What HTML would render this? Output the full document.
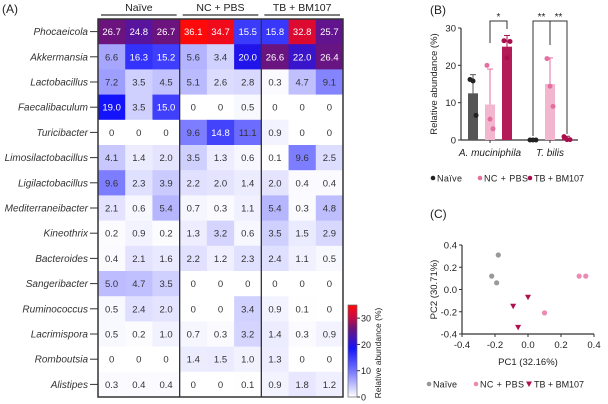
<!DOCTYPE html>
<html><head><meta charset="utf-8"><style>
body{margin:0;background:#fff;width:608px;height:404px;overflow:hidden;font-family:"Liberation Sans",sans-serif}
svg{display:block}
text{font-family:"Liberation Sans",sans-serif}
</style></head><body>
<svg id="s" width="608" height="404" xmlns="http://www.w3.org/2000/svg"></svg>
<script>
const genera=["Phocaeicola","Akkermansia","Lactobacillus","Faecalibaculum","Turicibacter","Limosilactobacillus","Ligilactobacillus","Mediterraneibacter","Kineothrix","Bacteroides","Sangeribacter","Ruminococcus","Lacrimispora","Romboutsia","Alistipes"];
const groups=["Naïve","NC + PBS","TB + BM107"];
const heat=[
[26.7,24.8,26.7,36.1,34.7,15.5,15.8,32.8,25.7],
[6.6,16.3,15.2,5.6,3.4,20.0,26.6,22.0,26.4],
[7.2,3.5,4.5,5.1,2.6,2.8,0.3,4.7,9.1],
[19.0,3.5,15.0,0,0,0.5,0,0,0],
[0,0,0,9.6,14.8,11.1,0.9,0,0],
[4.1,1.4,2.0,3.5,1.3,0.6,0.1,9.6,2.5],
[9.6,2.3,3.9,2.2,2.0,1.4,2.0,0.4,0.4],
[2.1,0.6,5.4,0.7,0.3,1.1,5.4,0.3,4.8],
[0.2,0.9,0.2,1.3,3.2,0.6,3.5,1.5,2.9],
[0.4,2.1,1.6,2.2,1.2,2.3,2.4,1.1,0.5],
[5.0,4.7,3.5,0,0,0,0,0,0],
[0.5,2.4,2.0,0,0,3.4,0.9,0.1,0],
[0.5,0.2,1.0,0.7,0.3,3.2,1.4,0.3,0.9],
[0,0,0,1.4,1.5,1.0,1.3,0,0],
[0.3,0.4,0.4,0,0,0.1,0.9,1.8,1.2]];
const cbTicks=[0,10,20,30];
const barTaxa=["A. muciniphila","T. bilis"];
const barMeans=[[12.5,9.5,25],[0,15,0.5]];
const barSD=[[17.5,19,28],[0,22,1]];
const barPts=[[[16.2,15.8,6.6],[20,5.6,3.0],[26.6,22.0,26.4]],[[0,0,0],[21.8,14.4,9.0],[0.9,0.1,0.1]]];
const barTicks=[0,10,20,30];
const pcaX=[[-0.18,-0.22,-0.19],[0.31,0.35,0.10],[-0.09,0.00,-0.06]];
const pcaY=[[0.31,0.12,0.06],[0.12,0.12,-0.21],[-0.15,-0.07,-0.34]];
const pcaTicks=[-0.4,-0.2,0.0,0.2,0.4];

const S=document.getElementById('s');const NS="http://www.w3.org/2000/svg";
function mk(t,a,p,txt){const e=document.createElementNS(NS,t);for(const k in a)e.setAttribute(k,a[k]);if(txt!==undefined)e.textContent=txt;(p||S).appendChild(e);return e;}
function txt(x,y,s,opt){opt=opt||{};return mk('text',Object.assign({x:x,y:y,'font-size':opt.fs||10,fill:opt.fill||'#222','text-anchor':opt.anchor||'start'},opt.extra||{}),opt.p,s);}

const stops=[[0,[255,255,255]],[10,[120,120,255]],[19,[20,20,250]],[24,[80,20,170]],[27,[110,20,120]],[31,[200,10,70]],[36,[255,10,10]]];
function col(v){for(let i=1;i<stops.length;i++){if(v<=stops[i][0]){const a=stops[i-1],b=stops[i];const t=(v-a[0])/(b[0]-a[0]);const c=a[1].map((x,j)=>Math.round(x+(b[1][j]-x)*t));return `rgb(${c})`;}}return 'rgb(255,10,10)';}

let e;
e=txt(2,13,"(A)",{fs:12});
const hx0=98,hy0=19,cw=245/9,rh=378/15;
const hx=i=>hx0+i*cw, hy=r=>hy0+r*rh;
const gA=mk('g',{});
heat.forEach((row,r)=>{row.forEach((v,c)=>{
 const rc=mk('rect',{x:hx(c),y:hy(r),width:cw+0.5,height:rh+0.5,fill:col(v)},gA);
 
 const t=txt(hx(c)+cw/2,hy(r)+rh/2+3.5,v===0?"0":v.toFixed(1),{fs:9.5,anchor:'middle',fill:v>13?'#fff':'#333',p:gA});
 
});
 const l=txt(88,hy(r)+rh/2+3.5,genera[r],{fs:10,anchor:'end',fill:'#333',extra:{'font-style':'italic'}});
 
 mk('line',{x1:90,x2:hx0,y1:hy(r)+rh/2,y2:hy(r)+rh/2,stroke:'#333','stroke-width':1});
});
mk('rect',{x:hx0,y:hy0,width:245,height:378,fill:'none',stroke:'#333','stroke-width':1.5});
[3,6].forEach(c=>mk('line',{x1:hx(c),x2:hx(c),y1:hy0,y2:hy0+378,stroke:'#333','stroke-width':1.3}));
groups.forEach((g,i)=>{const x=hx(i*3)+cw*1.5;
 const t=txt(x,11,g,{fs:10.5,anchor:'middle'});
 mk('line',{x1:hx(i*3)+3,x2:hx(i*3+3)-3,y1:15,y2:15,stroke:'#333','stroke-width':1.3});});
const cbx=348,cbTop=305,cbBot=397,cbMax=35;
const cy=v=>cbBot-(v/cbMax)*(cbBot-cbTop);
const defs=mk('defs',{});const lg=mk('linearGradient',{id:'cb',x1:0,y1:1,x2:0,y2:0},defs);
stops.forEach(s=>mk('stop',{offset:(s[0]/36),'stop-color':col(s[0])},lg));
e=mk('rect',{x:cbx,y:cbTop,width:9,height:cbBot-cbTop,fill:'url(#cb)',stroke:'#666','stroke-width':0.7});

cbTicks.forEach(v=>{mk('line',{x1:cbx+9,x2:cbx+12,y1:cy(v),y2:cy(v),stroke:'#333'});txt(cbx+13,cy(v)+3.5,String(v),{fs:9});});
e=txt(0,0,"Relative abundance (%)",{fs:8.5,anchor:'middle',extra:{transform:`translate(381,${(cbTop+cbBot)/2+2}) rotate(-90)`}});


const gCols=[['#555','#222'],['#f2b6cf','#e46fa0'],['#b51a58','#a80f4c']];
e=txt(430,14,"(B)",{fs:12});
const by0=140,by30=28,bax=461;const by=v=>by0-v*(by0-by30)/30;
const barX=[[468,485,502],[528,545,562]],bw=10;
mk('line',{x1:bax,x2:bax,y1:by30,y2:by0,stroke:'#333','stroke-width':1.2});
mk('line',{x1:bax,x2:578,y1:by0,y2:by0,stroke:'#333','stroke-width':1.2});
barTicks.forEach(v=>{mk('line',{x1:bax-3,x2:bax,y1:by(v),y2:by(v),stroke:'#333'});txt(bax-5,by(v)+3.5,String(v),{fs:9.5,anchor:'end'});});
barTaxa.forEach((t,ti)=>{
 const cx=barX[ti][1]+bw/2;mk('line',{x1:cx,x2:cx,y1:by0,y2:by0+3,stroke:'#333'});
 e=txt(cx,156,t,{fs:10,anchor:'middle',extra:{'font-style':'italic'}});
 for(let g=0;g<3;g++){const x=barX[ti][g];
  const b=mk('rect',{x:x,y:by(barMeans[ti][g]),width:bw,height:Math.max(0.5,by0-by(barMeans[ti][g])),fill:gCols[g][0]});
  
  if(barSD[ti][g]>barMeans[ti][g]){const sc=g===0?'#555':gCols[g][1];mk('line',{x1:x+bw/2,x2:x+bw/2,y1:by(barMeans[ti][g]),y2:by(barSD[ti][g]),stroke:sc,'stroke-width':1});
   mk('line',{x1:x+2,x2:x+bw-2,y1:by(barSD[ti][g]),y2:by(barSD[ti][g]),stroke:sc});}
  barPts[ti][g].forEach((p,k)=>{const d=mk('circle',{cx:x+bw/2+(k-1)*3,cy:by(p),r:2.5,fill:gCols[g][1]});});
 }});
mk('path',{d:`M490,43 V21 H507 V29`,fill:'none',stroke:'#333'});txt(498.5,20,"*",{fs:10,anchor:'middle'});
mk('path',{d:`M533,${by0-4} V21 H550 V45`,fill:'none',stroke:'#333'});txt(541.5,20,"**",{fs:10,anchor:'middle'});
mk('path',{d:`M550,45 V21 H567 V${by0-6}`,fill:'none',stroke:'#333'});txt(558.5,20,"**",{fs:10,anchor:'middle'});
e=txt(0,0,"Relative abundance (%)",{fs:9.5,anchor:'middle',extra:{transform:`translate(437,${(by0+by30)/2}) rotate(-90)`}});

const legB=mk('g',{});
[[433,"Naïve"],[480,"NC + PBS"],[530,"TB + BM107"]].forEach((l,i)=>{mk('circle',{cx:l[0],cy:178,r:2.3,fill:gCols[i][1]},legB);txt(l[0]+4,181.5,l[1],{fs:9,p:legB,extra:{textLength:i===0?25:i===1?44:50}});});

e=txt(430,218,"(C)",{fs:12});
const px=v=>462+(v+0.4)*165, py=v=>289.5-v*111.25;
mk('line',{x1:px(-0.4),x2:px(0.4),y1:py(-0.4),y2:py(-0.4),stroke:'#333','stroke-width':1.2});
mk('line',{x1:462,x2:462,y1:py(0.4),y2:py(-0.4),stroke:'#333','stroke-width':1.2});
pcaTicks.forEach(v=>{const l=v.toFixed(1);
 mk('line',{x1:px(v),x2:px(v),y1:py(-0.4),y2:py(-0.4)+3,stroke:'#333'});txt(px(v),py(-0.4)+14,l,{fs:9.5,anchor:'middle'});
 mk('line',{x1:459,x2:462,y1:py(v),y2:py(v),stroke:'#333'});txt(457,py(v)+3.5,l,{fs:9.5,anchor:'end'});});
e=txt(528,365,"PC1 (32.16%)",{fs:9.5,anchor:'middle'});
e=txt(0,0,"PC2 (30.71%)",{fs:9.5,anchor:'middle',extra:{transform:`translate(437,${py(0)}) rotate(-90)`}});
const pcCol=['#999','#ec8ab4','#b0104e'];
function tri(x,y,c,p){return mk('path',{d:`M${x-3},${y-2.5} L${x+3},${y-2.5} L${x},${y+3} Z`,fill:c},p);}
for(let g=0;g<3;g++)pcaX[g].forEach((v,k)=>{const x=px(v),y=py(pcaY[g][k]);
 const d=g===2?tri(x,y,pcCol[g]):mk('circle',{cx:x,cy:y,r:2.6,fill:pcCol[g]});});
const legC=mk('g',{});
mk('circle',{cx:429,cy:384,r:2.3,fill:pcCol[0]},legC);txt(433,387.5,"Naïve",{fs:9,p:legC,extra:{textLength:24}});
mk('circle',{cx:476,cy:384,r:2.3,fill:pcCol[1]},legC);txt(480,387.5,"NC + PBS",{fs:9,p:legC,extra:{textLength:44}});
tri(529,384,pcCol[2],legC);txt(534,387.5,"TB + BM107",{fs:9,p:legC,extra:{textLength:50}});
</script>
</body></html>
